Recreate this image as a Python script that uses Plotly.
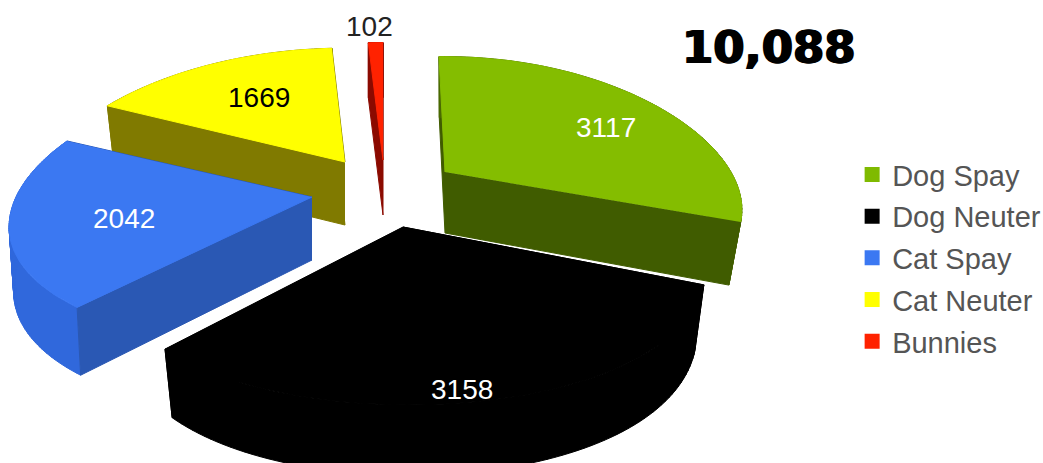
import math
import plotly.graph_objects as go

categories = ["Dog Spay", "Dog Neuter", "Cat Spay", "Cat Neuter", "Bunnies"]
values = [3117, 3158, 2042, 1669, 102]
total_label = "10,088"

# styling and 3D view (not data)
top_colors = ["#84bd00", "#000000", "#3b78f2", "#ffff00", "#ff2200"]
wall_colors = ["#405c00", "#000000", "#2a58b4", "#807a00", "#8b0a00"]
rim_colors = ["#4a6a00", "#000000", "#3068dc", "#807a00", "#8b0a00"]
legend_colors = ["#7fba00", "#000000", "#3b78f2", "#ffff00", "#ff2200"]
label_colors = ["white", "white", "white", "black", "#222222"]
apex_x = [445, 403, 312, 345, 383]
apex_y = [172, 227, 197, 162, 160]
thickness = [61, 64, 63, 63, 55]
scale_x = [0.99, 0.99, 1.01, 1.03, 1.0]
scale_y = [1.0, 1.12, 1.0, 0.97, 1.0]
arc_dx = [0, 6, 0, 0, 0]
arc_dy = [2, 0, -6, 0, 0]
rot = [-1.5, 0, -3.7, 0.5, 0]
taper = [0.96, 0.97, 0.985, 0.97, 1.0]
label_x = [606, 462, 124, 259, 369]
label_y = [127, 389, 218, 97, 26]
draw_order = [4, 3, 1, 0, 2]
RX, RY, KX, KY = 290, 135, 0.255, 0.15


def proj(i, deg, z=0):
    t = math.radians(deg)
    s, v = math.sin(t), -math.cos(t)
    dx = arc_dx[i] + scale_x[i] * RX * s / (1 - KX * v)
    dy = arc_dy[i] + scale_y[i] * RY * v / (1 - KY * v)
    if z:
        dx *= taper[i]
        z *= 1 + 0.1 * max(v, 0)
    return (apex_x[i] + dx, apex_y[i] + dy + z)


def poly(fig, pts, color, name):
    fig.add_trace(go.Scatter(
        x=[None if p is None else p[0] for p in pts],
        y=[None if p is None else p[1] for p in pts], mode="lines",
        fill="toself", fillcolor=color, line=dict(color=color, width=1),
        showlegend=False, name=name, hoverinfo="name"))


total = sum(values)
edges = [0]
for val in values:
    edges.append(edges[-1] + val / total * 360)

fig = go.Figure()
for i in draw_order:
    a0, a1 = edges[i] + rot[i], edges[i + 1] + rot[i]
    n = 80
    arc = [a0 + (a1 - a0) * k / n for k in range(n + 1)]
    z = thickness[i]
    apex = (apex_x[i], apex_y[i])
    rear, front = sorted([a0, a1], key=lambda a: -math.cos(math.radians(a)))

    def wall(a):
        return [apex, proj(i, a), proj(i, a, z), (apex[0], apex[1] + z)]

    poly(fig, wall(rear), wall_colors[i], categories[i])
    # the rim is a strip of small quads, so its outline follows the curved side
    rim = []
    for a, b in zip(arc[:-1], arc[1:]):
        rim += [proj(i, a), proj(i, b), proj(i, b, z), proj(i, a, z), proj(i, a), None]
    poly(fig, rim, rim_colors[i], categories[i])
    poly(fig, wall(front), wall_colors[i], categories[i])
    poly(fig, [apex] + [proj(i, a) for a in arc], top_colors[i], categories[i])

# legend entries, one group each so the rows can be spaced apart
for i, c in enumerate(categories):
    fig.add_trace(go.Scatter(
        x=[None], y=[None], mode="markers", name=c, legendgroup=c,
        marker=dict(symbol="square", size=15, color=legend_colors[i])))

for i, val in enumerate(values):
    fig.add_annotation(x=label_x[i], y=label_y[i], text=str(val), showarrow=False,
                       font=dict(family="Liberation Sans", size=28, color=label_colors[i]))
fig.add_annotation(x=769, y=47, text="<b>%s</b>" % total_label, showarrow=False,
                   font=dict(family="DejaVu Sans", size=45, color="black",
                             shadow="1px 0 0 black, -1px 0 0 black"))

fig.update_layout(
    width=1043, height=463, margin=dict(l=0, r=0, t=0, b=0, autoexpand=False),
    paper_bgcolor="white", plot_bgcolor="white",
    xaxis=dict(range=[0, 1043], visible=False, fixedrange=True),
    yaxis=dict(range=[463, 0], visible=False, fixedrange=True),
    legend=dict(x=0.817, y=0.678, xanchor="left", yanchor="top",
                tracegroupgap=1, traceorder="grouped",
                font=dict(family="Liberation Sans", size=29, color="#555555"),
                bgcolor="rgba(0,0,0,0)"),
)
fig.write_html("out.html", config={"displayModeBar": False},
               post_script="document.body.style.margin='0';")
